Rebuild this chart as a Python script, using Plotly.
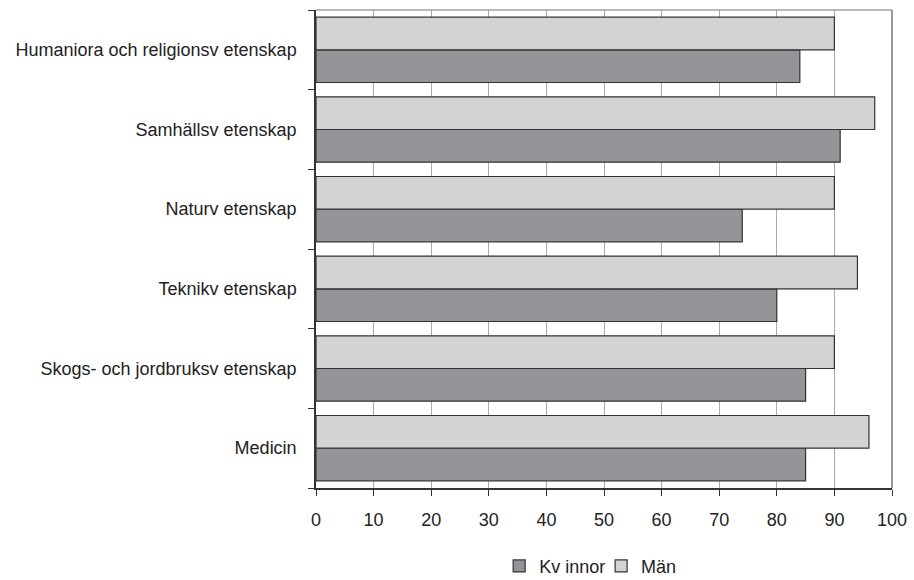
import plotly.graph_objects as go

categories = [
    "Humaniora och religionsv etenskap",
    "Samhällsv etenskap",
    "Naturv etenskap",
    "Teknikv etenskap",
    "Skogs- och jordbruksv etenskap",
    "Medicin",
]
kvinnor = [84, 91, 74, 80, 85, 85]
man = [90, 97, 90, 94, 90, 96]
x_ticks = [0, 10, 20, 30, 40, 50, 60, 70, 80, 90, 100]

FONT = "Liberation Sans, Arial, sans-serif"

fig = go.Figure()
fig.add_trace(go.Bar(
    y=categories, x=kvinnor, orientation="h", name="Kv innor", legend="legend",
    marker=dict(color="#939598", line=dict(color="#333333", width=1.2)),
))
fig.add_trace(go.Bar(
    y=categories, x=man, orientation="h", name="Män", legend="legend2",
    marker=dict(color="#d1d3d4", line=dict(color="#333333", width=1.2)),
))

leg_common = dict(orientation="h", xanchor="left", y=-0.125, yanchor="top",
                  font=dict(family=FONT, size=18), bgcolor="rgba(0,0,0,0)")

fig.update_layout(
    width=914, height=580,
    margin=dict(l=316, r=22, t=10, b=92, autoexpand=False),
    paper_bgcolor="white", plot_bgcolor="white",
    barmode="group", bargap=0.18, bargroupgap=0,
    font=dict(family=FONT, size=18, color="#222222"),
    showlegend=True,
    legend=dict(x=0.318, **leg_common),
    legend2=dict(x=0.495, **leg_common),
    xaxis=dict(
        range=[0, 100], tickvals=x_ticks, showgrid=True, gridcolor="#aaaaaa", gridwidth=1,
        showline=True, linecolor="#333333", linewidth=1.5,
        ticks="outside", ticklen=6, tickcolor="#333333", ticklabelstandoff=9,
        zeroline=False, automargin=False,
    ),
    yaxis=dict(
        categoryorder="array", categoryarray=categories[::-1],
        showline=True, linecolor="#333333", linewidth=1.5,
        ticks="outside", ticklen=6, tickcolor="#333333", tickson="boundaries",
        ticklabelstandoff=14, showgrid=False, automargin=False,
    ),
)
fig.add_shape(type="line", xref="x domain", yref="y domain", x0=0, x1=1, y0=1, y1=1,
              line=dict(color="#777777", width=1.2))
fig.add_shape(type="line", xref="x domain", yref="y domain", x0=1, x1=1, y0=0, y1=1,
              line=dict(color="#555555", width=1.2))

fig.write_html("out.html", config={"displayModeBar": False},
               post_script="document.body.style.margin='0';")
